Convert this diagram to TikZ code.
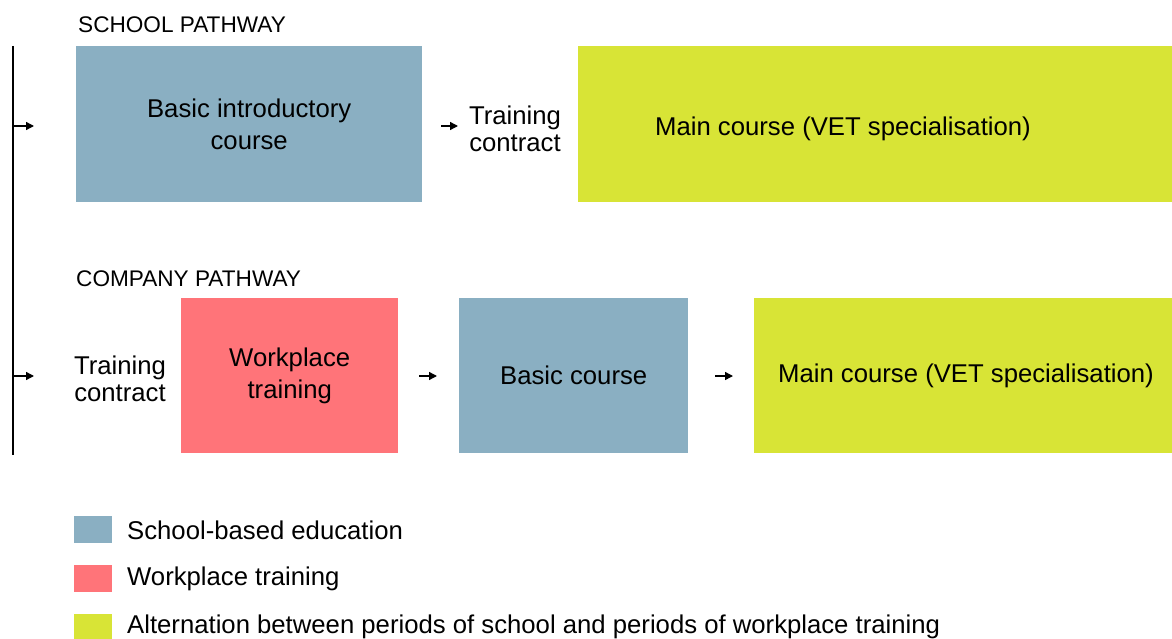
\documentclass[tikz,border=0pt]{standalone}
\usepackage{fontspec}
\setmainfont{Liberation Sans}
\usetikzlibrary{arrows.meta}
\definecolor{schoolblue}{HTML}{8AAFC2}
\definecolor{workred}{HTML}{FF7479}
\definecolor{altyellow}{HTML}{D8E436}
\begin{document}
\begin{tikzpicture}[x=1pt,y=-1pt,
  box/.style={draw=none,anchor=north west,inner sep=0pt,align=center,font=\fontsize{25.7}{32}\selectfont},
  lbl/.style={inner sep=0pt,align=center,font=\fontsize{25.7}{27}\selectfont},
  head/.style={inner sep=0pt,anchor=west,font=\fontsize{22.6}{24}\selectfont},
  leg/.style={inner sep=0pt,anchor=west,font=\fontsize{25.7}{28}\selectfont},
  sw/.style={draw=none,anchor=north west,minimum width=38pt,minimum height=27pt,inner sep=0pt},
  arr/.style={-{Triangle[length=8pt,width=8pt]},line width=1.4pt}]
\useasboundingbox (0,0) rectangle (1172,639);
% vertical line
\coordinate (vtop) at (13,46);
\coordinate (vbot) at (13,455);
\draw[line width=1.2pt] (vtop) -- (vbot);
% school pathway
\node[head] (sh) at (78,25) {SCHOOL PATHWAY};
\node[box,fill=schoolblue,minimum width=346pt,minimum height=156pt] (b1) at (76,46) {Basic introductory\\course};
\node[lbl] (tc1) at (515,129) {Training\\contract};
\node[box,fill=altyellow,minimum width=594pt,minimum height=156pt] (y1) at (578,46) {};
\node[lbl] (y1t) at (843,129) {Main course (VET specialisation)};
\coordinate (a1s) at (13,126);
\coordinate (a1e) at (34,126);
\draw[arr] (a1s) -- (a1e);
\coordinate (a2s) at (441,126);
\coordinate (a2e) at (458,126);
\draw[arr] (a2s) -- (a2e);
% company pathway
\node[head] (ch) at (76,279) {COMPANY PATHWAY};
\node[lbl] (tc2) at (120,379) {Training\\contract};
\node[box,fill=workred,minimum width=217pt,minimum height=155pt] (r2) at (181,298) {Workplace\\training};
\node[box,fill=schoolblue,minimum width=229pt,minimum height=155pt] (b2) at (459,298) {Basic course};
\node[box,fill=altyellow,minimum width=418pt,minimum height=155pt] (y2) at (754,298) {};
\node[lbl] (y2t) at (966,376) {Main course (VET specialisation)};
\coordinate (a3s) at (13,376);
\coordinate (a3e) at (34,376);
\draw[arr] (a3s) -- (a3e);
\coordinate (a4s) at (419,376);
\coordinate (a4e) at (437,376);
\draw[arr] (a4s) -- (a4e);
\coordinate (a5s) at (715,376);
\coordinate (a5e) at (733,376);
\draw[arr] (a5s) -- (a5e);
% legend
\node[sw,fill=schoolblue] (l1) at (74,516) {};
\node[leg] (l1t) at (127,530) {School-based education};
\node[sw,fill=workred] (l2) at (74,565) {};
\node[leg] (l2t) at (127,579) {Workplace training};
\node[sw,fill=altyellow] (l3) at (74,614) {};
\node[leg] (l3t) at (127,627) {Alternation between periods of school and periods of workplace training};
\end{tikzpicture}
\end{document}
